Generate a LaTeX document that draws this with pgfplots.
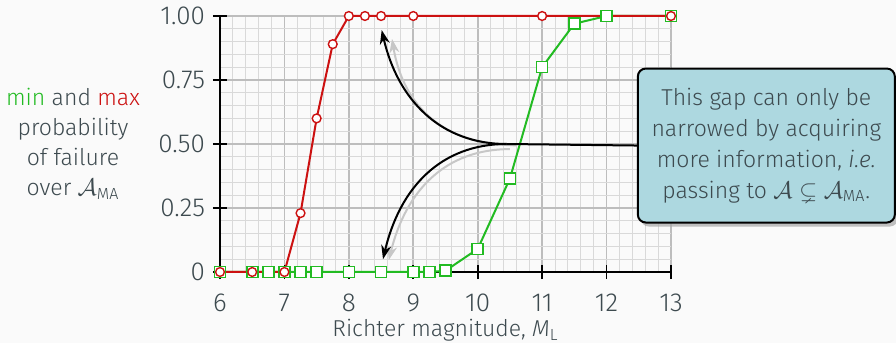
\documentclass[border=0pt]{standalone}
\usepackage{amssymb}
\usepackage{fontspec}
\setmainfont{Fira Sans}[UprightFont=* Light, ItalicFont=* Light Italic]
\usepackage{pgfplots}
\pgfplotsset{compat=1.18}
\usetikzlibrary{arrows.meta,shadows}
\definecolor{txt}{HTML}{3D4A4F}
\definecolor{myred}{HTML}{CC1111}
\definecolor{mygreen}{HTML}{22BB22}
\definecolor{bg}{HTML}{FAFAFA}
\definecolor{boxfill}{HTML}{ADD8E0}
\begin{document}
\begin{tikzpicture}
\fill[bg] (0,0) rectangle (448pt,171.5pt);
\useasboundingbox (0,0) rectangle (448pt,171.5pt);
\begin{axis}[
  at={(110pt,35.5pt)}, anchor=south west,
  scale only axis, width=225.5pt, height=128pt,
  xmin=6, xmax=13, ymin=0, ymax=1,
  axis x line*=bottom, axis y line*=left,
  axis line style={-, black, line width=0.8pt},
  xtick={6,7,8,9,10,11,12,13}, ytick={0,0.25,0.5,0.75,1},
  xticklabels={6,7,8,9,10,11,12,13},
  yticklabels={0,0.25,0.50,0.75,1.00},
  minor x tick num=4, minor y tick num=4,
  grid=both,
  major grid style={black!26, line width=0.8pt},
  minor grid style={black!15, line width=0.5pt},
  tick align=center, major tick length=7pt, minor tick length=0pt,
  major tick style={black, line width=0.8pt},
  ticklabel style={font=\fontsize{13}{15}\selectfont, text=txt},
  xticklabel style={yshift=-4pt},
  yticklabel style={xshift=-0.5pt},
  /pgf/number format/assume math mode=true,
  xlabel={Richter magnitude, \textit{M}\textsubscript{L}},
  xlabel style={font=\fontsize{11.5}{13}\selectfont, text=txt, at={(axis description cs:0.5,-0.228)}, anchor=center},
  ylabel={{\color{mygreen}min} and {\color{myred}max}\\probability\\of failure\\over $\mathcal{A}$\textsubscript{MA}},
  ylabel style={font=\fontsize{11.5}{15}\selectfont, text=txt, rotate=-90, align=center, at={(axis description cs:-0.326,0.5)}, anchor=center},
  clip=false,
]
% min (green) line
\addplot[mygreen, line width=1pt] coordinates {
(6,0)(6.5,0)(6.75,0)(7,0)(7.25,0)(7.5,0)(8,0)(8.5,0)(9,0)(9.25,0)(9.5,0.005)(10,0.09)(10.5,0.365)(11,0.8)(11.5,0.97)(12,1)(13,1)};
% max (red) line
\addplot[myred, line width=1pt] coordinates {
(6,0)(6.5,0)(7,0)(7.25,0.23)(7.5,0.6)(7.75,0.89)(8,1)(8.25,1)(8.5,1)(9,1)(11,1)(13,1)};
\addplot[only marks, mark=square*, mark size=2.75pt, mark options={fill=white, draw=mygreen, line width=0.8pt}] coordinates {
(6,0)(6.5,0)(6.75,0)(7,0)(7.25,0)(7.5,0)(8,0)(8.5,0)(9,0)(9.25,0)(9.5,0.005)(10,0.09)(10.5,0.365)(11,0.8)(11.5,0.97)(12,1)(13,1)};
\addplot[only marks, mark=*, mark size=2.2pt, mark options={fill=white, draw=myred, line width=0.7pt}] coordinates {
(6,0)(6.5,0)(7,0)(7.25,0.23)(7.5,0.6)(7.75,0.89)(8,1)(8.25,1)(8.5,1)(9,1)(11,1)(13,1)};
% gray shadow arrows
\draw[black!22, line width=1pt, -{Stealth[length=7pt,width=5pt]}] (axis cs:10.6,0.495) .. controls (axis cs:9.5,0.495) and (axis cs:8.85,0.64) .. (axis cs:8.67,0.91);
\draw[black!22, line width=1pt, -{Stealth[length=7pt,width=5pt]}] (axis cs:10.5,0.48) .. controls (axis cs:9.5,0.48) and (axis cs:8.89,0.32) .. (axis cs:8.62,0.047);
% black arrows
\draw[black, line width=1pt, -{Stealth[length=7pt,width=5pt]}] (axis cs:10.45,0.5) .. controls (axis cs:9.42,0.5) and (axis cs:8.76,0.672) .. (axis cs:8.51,0.945);
\draw[black, line width=1pt, -{Stealth[length=7pt,width=5pt]}] (axis cs:10.45,0.5) .. controls (axis cs:9.42,0.5) and (axis cs:8.79,0.328) .. (axis cs:8.53,0.05);
% callout
\node[draw=black, line width=1pt, fill=boxfill, rounded corners=4pt,
  minimum width=128.5pt, minimum height=77pt, align=center, text=txt,
  font=\fontsize{11.5}{15.5}\selectfont,
  drop shadow={shadow xshift=1.5pt, shadow yshift=-2pt, fill=black!35, opacity=0.7}] (box) at (axis cs:14.48,0.494)
  {This gap can only be\\narrowed by acquiring\\more information, \textit{i.e.}\\passing to $\mathcal{A}\subsetneq\mathcal{A}$\textsubscript{MA}.};
\draw[black, line width=1pt] (axis cs:10.45,0.5) -- (box.west);
\end{axis}
\end{tikzpicture}
\end{document}
